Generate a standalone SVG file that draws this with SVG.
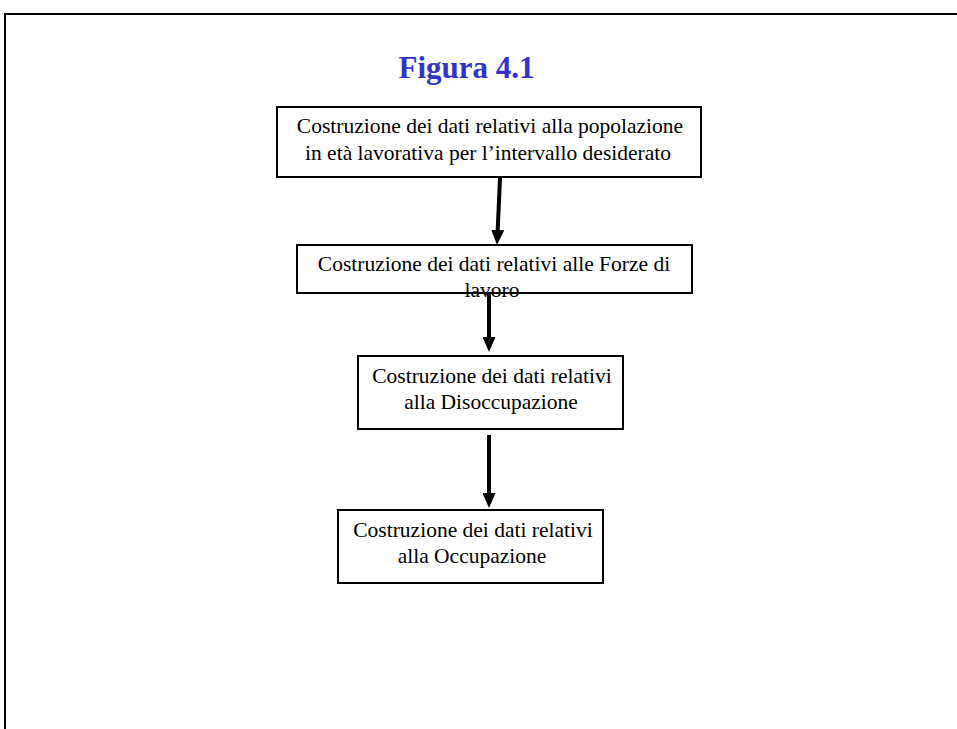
<svg xmlns="http://www.w3.org/2000/svg" width="957" height="729" viewBox="0 0 957 729">
  <style>
    .frame { fill: none; stroke: #000; stroke-width: 2; }
    .box { fill: #fff; stroke: #000; stroke-width: 2; }
    .label { font-family: "Liberation Serif", "Times New Roman", serif; font-size: 21.5px; fill: #000; text-anchor: middle; }
    .title { font-family: "Liberation Serif", "Times New Roman", serif; font-size: 31px; font-weight: bold; fill: #3333cc; text-anchor: middle; }
    .conn { stroke: #000; stroke-width: 4; fill: none; }
  </style>
  <defs>
    <marker id="arrow" viewBox="0 0 15 13" refX="0" refY="6.5" markerWidth="15" markerHeight="13" markerUnits="userSpaceOnUse" orient="auto">
      <path d="M0,0 L15,6.5 L0,13 z" fill="#000"/>
    </marker>
  </defs>

  <rect width="957" height="729" fill="#fff"/>

  <!-- page frame (open on the right and bottom) -->
  <path class="frame" d="M958,14 H5 V730"/>

  <text class="title" x="466.5" y="78">Figura 4.1</text>

  <g id="node-popolazione">
    <rect class="box" x="277" y="107" width="424" height="70"/>
    <text class="label" x="490" y="133">Costruzione dei dati relativi alla popolazione</text>
    <text class="label" x="488" y="160">in età lavorativa per l’intervallo desiderato</text>
  </g>

  <g id="node-forze-lavoro">
    <rect class="box" x="297" y="245" width="395" height="48"/>
    <text class="label" x="494" y="271">Costruzione dei dati relativi alle Forze di</text>
  </g>

  <g id="node-disoccupazione">
    <rect class="box" x="358" y="356" width="265" height="73"/>
    <text class="label" x="492" y="383">Costruzione dei dati relativi</text>
    <text class="label" x="491" y="409">alla Disoccupazione</text>
  </g>

  <g id="node-occupazione">
    <rect class="box" x="338" y="510" width="265" height="73"/>
    <text class="label" x="473" y="537">Costruzione dei dati relativi</text>
    <text class="label" x="472" y="563">alla Occupazione</text>
  </g>

  <g id="connectors">
    <line class="conn" x1="500" y1="178" x2="497.7" y2="230" marker-end="url(#arrow)"/>
    <line class="conn" x1="489" y1="293" x2="489" y2="337" marker-end="url(#arrow)"/>
    <line class="conn" x1="489" y1="435" x2="489" y2="493" marker-end="url(#arrow)"/>
  </g>

  <!-- overflowing second line of the Forze di lavoro box, drawn over its border -->
  <text class="label" x="492" y="297">lavoro</text>
</svg>
